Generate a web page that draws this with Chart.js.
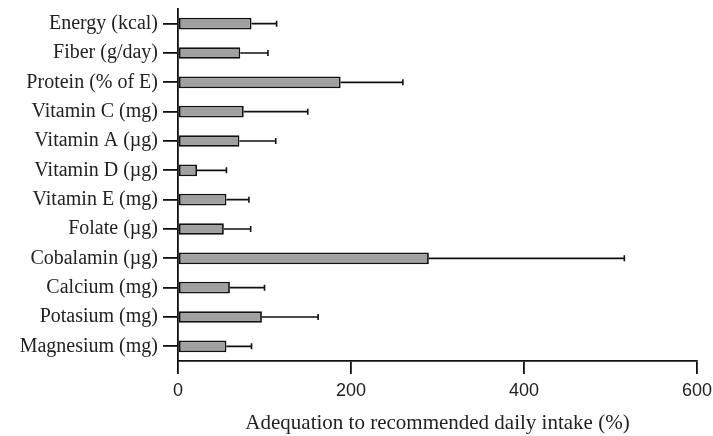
<!DOCTYPE html>
<html>
<head>
<meta charset="utf-8">
<script src="https://cdn.jsdelivr.net/npm/chart.js@4"></script>
<style>
  body { margin: 0; background: #fff; }
  #wrap { width: 713px; height: 436px; }
</style>
</head>
<body>
<div id="wrap"><canvas id="intakeChart"></canvas></div>
<script>
const nutrients = ['Energy (kcal)', 'Fiber (g/day)', 'Protein (% of E)', 'Vitamin C (mg)', 'Vitamin A (\u00b5g)',
    'Vitamin D (\u00b5g)', 'Vitamin E (mg)', 'Folate (\u00b5g)', 'Cobalamin (\u00b5g)', 'Calcium (mg)',
    'Potasium (mg)', 'Magnesium (mg)'];
const adequacy = [85, 72, 188, 76, 71, 22, 56, 53, 290, 60, 97, 56];
const sdUpper = [29, 32, 72, 74, 42, 34, 26, 31, 226, 40, 65, 29];
const xTicks = [0, 200, 400, 600];

// error bars: only the upper whisker, with a small cap
const errorBars = {
    id: 'errorBars',
    afterDatasetsDraw(chart) {
        const ctx = chart.ctx;
        const xs = chart.scales.x;
        const meta = chart.getDatasetMeta(0);
        ctx.save();
        ctx.strokeStyle = '#111';
        ctx.lineWidth = 1.6;
        meta.data.forEach((bar, i) => {
            const x0 = bar.x;
            const x1 = xs.getPixelForValue(adequacy[i] + sdUpper[i]);
            ctx.beginPath();
            ctx.moveTo(x0, bar.y);
            ctx.lineTo(x1, bar.y);
            ctx.moveTo(x1, bar.y - 3);
            ctx.lineTo(x1, bar.y + 3);
            ctx.stroke();
        });
        ctx.restore();
    }
};

const ctx = document.getElementById('intakeChart').getContext('2d');
new Chart(ctx, {
    type: 'bar',
    data: {
        labels: nutrients,
        datasets: [{
            data: adequacy,
            backgroundColor: '#a0a0a0',
            borderColor: '#111',
            borderWidth: 1.8,
            borderSkipped: false,
            barPercentage: 0.8,
            categoryPercentage: 0.5
        }]
    },
    plugins: [errorBars],
    options: {
        indexAxis: 'y',
        responsive: true,
        maintainAspectRatio: false,
        animation: false,
        layout: { padding: { top: 9, right: 16, left: 0, bottom: 0 } },
        plugins: {
            legend: { display: false },
            tooltip: { enabled: false }
        },
        scales: {
            x: {
                min: 0,
                max: 600,
                afterBuildTicks: axis => { axis.ticks = xTicks.map(v => ({ value: v })); },
                afterFit: axis => {
                    axis.height = 75;
                    axis.paddingLeft = 0;
                    axis.paddingRight = 0;
                },
                grid: { drawOnChartArea: false, tickLength: 13, color: '#111', lineWidth: 1.8 },
                border: { color: '#111', width: 1.8 },
                ticks: {
                    color: '#222',
                    padding: 6,
                    font: { family: 'Liberation Sans', size: 18 }
                },
                title: {
                    display: true,
                    text: 'Adequation to recommended daily intake (%)',
                    color: '#222',
                    padding: { top: 12, bottom: 0 },
                    font: { family: 'Liberation Serif', size: 21 }
                }
            },
            y: {
                afterFit: axis => {
                    axis.width = 178;
                    axis.paddingTop = 0;
                    axis.paddingBottom = 0;
                },
                grid: { drawOnChartArea: false, offset: false, tickLength: 15, color: '#111', lineWidth: 1.8 },
                border: { color: '#111', width: 1.8 },
                ticks: {
                    color: '#222',
                    padding: 5,
                    font: { family: 'Liberation Serif', size: 20 }
                }
            }
        }
    }
});
</script>
</body>
</html>
